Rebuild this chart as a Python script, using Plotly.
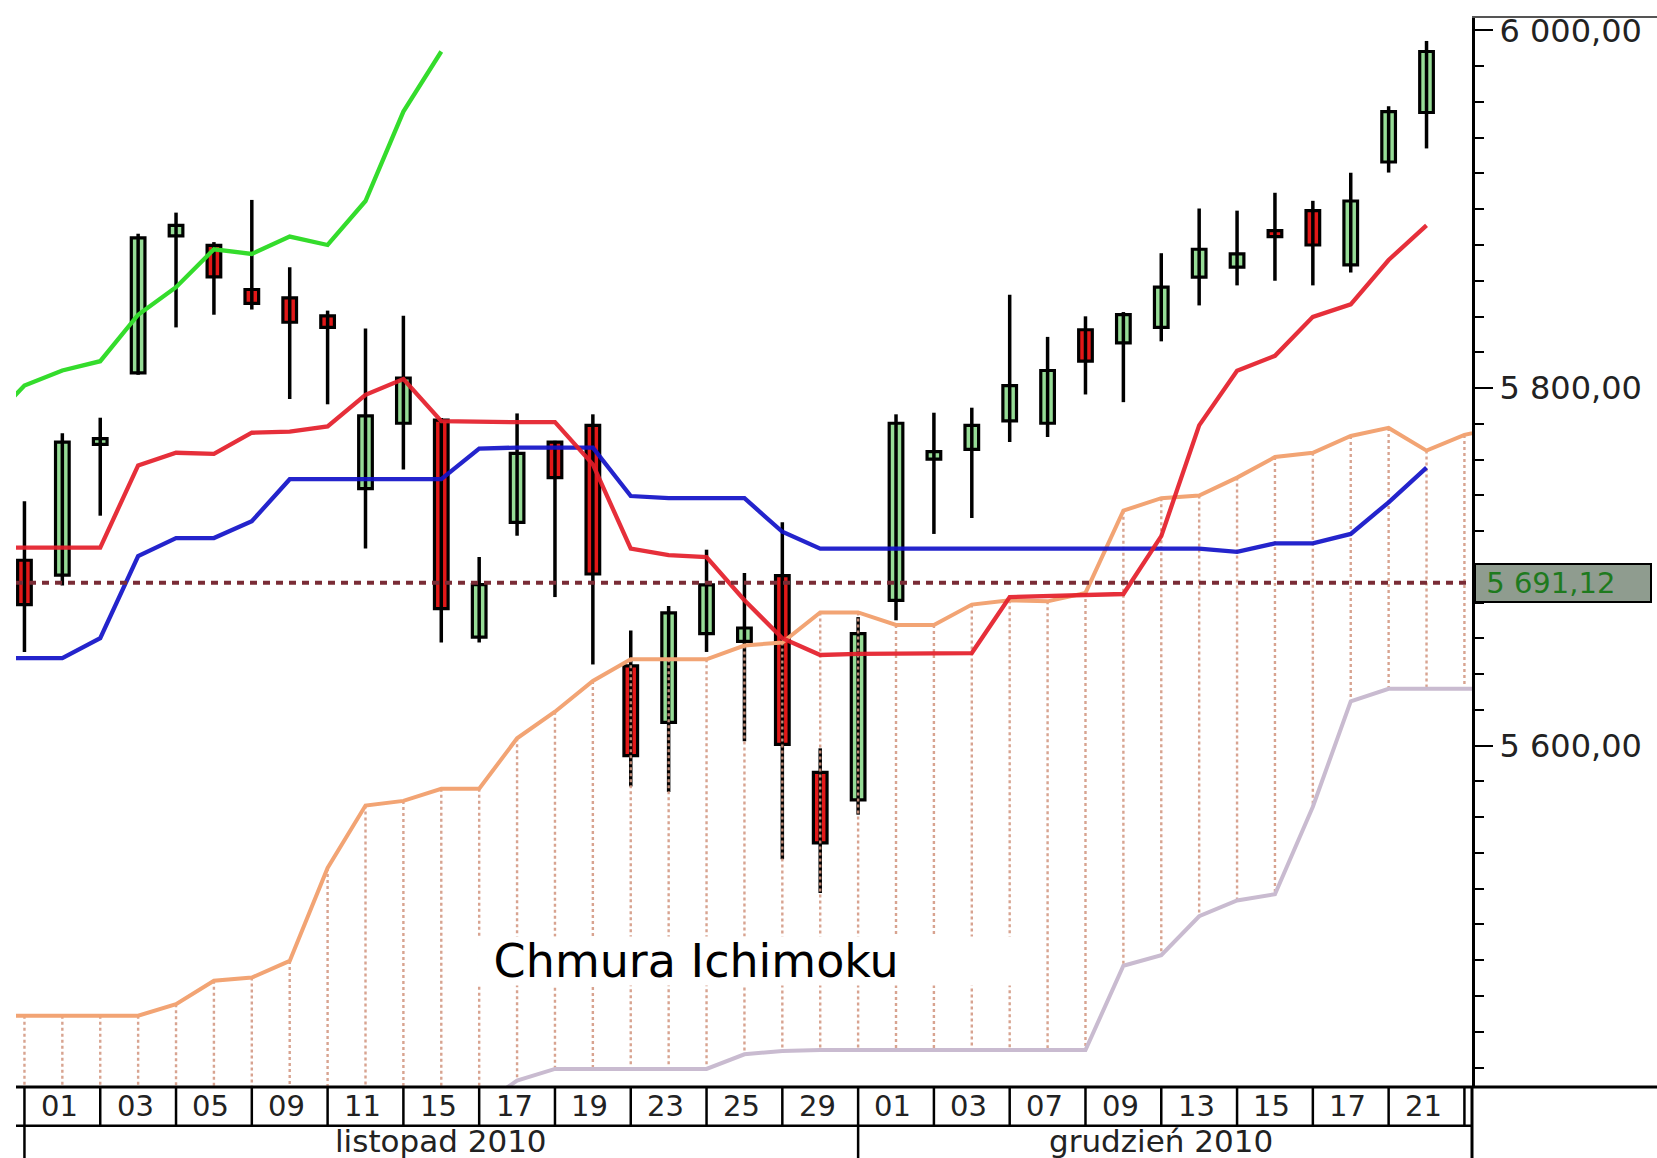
import plotly.graph_objects as go

# ---------------- data ----------------
dates = ["2010-11-01", "2010-11-02", "2010-11-03", "2010-11-04", "2010-11-05",
         "2010-11-08", "2010-11-09", "2010-11-10", "2010-11-11", "2010-11-12",
         "2010-11-15", "2010-11-16", "2010-11-17", "2010-11-18", "2010-11-19",
         "2010-11-22", "2010-11-23", "2010-11-24", "2010-11-25", "2010-11-26",
         "2010-11-29", "2010-11-30", "2010-12-01", "2010-12-02", "2010-12-03",
         "2010-12-06", "2010-12-07", "2010-12-08", "2010-12-09", "2010-12-10",
         "2010-12-13", "2010-12-14", "2010-12-15", "2010-12-16", "2010-12-17",
         "2010-12-20", "2010-12-21", "2010-12-22"]
opens = [5703.7, 5695.4, 5768.5, 5808.5, 5885.1, 5879.8, 5855.1, 5850.4, 5840.4, 5743.7,
         5780.3, 5782.0, 5660.7, 5724.9, 5769.8, 5779.1, 5644.6, 5613.0, 5662.6, 5658.3,
         5695.1, 5585.1, 5569.7, 5681.2, 5760.2, 5765.7, 5781.6, 5780.3, 5832.6, 5825.2,
         5833.9, 5862.0, 5867.6, 5888.0, 5899.2, 5868.9, 5926.4, 5954.1]
highs = [5736.7, 5774.7, 5783.4, 5886.3, 5898.1, 5881.6, 5905.2, 5867.5, 5843.3, 5833.3,
         5840.4, 5783.2, 5705.5, 5785.8, 5770.5, 5785.3, 5664.4, 5678.1, 5709.6, 5696.6,
         5724.9, 5598.5, 5671.9, 5785.3, 5786.2, 5789.0, 5852.1, 5828.6, 5840.1, 5842.5,
         5875.4, 5900.4, 5899.2, 5909.2, 5904.7, 5920.4, 5957.6, 5994.1]
lows = [5652.4, 5689.6, 5728.6, 5807.4, 5833.9, 5841.0, 5843.9, 5793.8, 5790.9, 5710.2,
        5754.4, 5657.7, 5657.7, 5717.4, 5683.1, 5645.4, 5577.2, 5574.1, 5652.4, 5602.4,
        5536.4, 5517.6, 5561.4, 5670.1, 5718.4, 5727.3, 5769.8, 5772.6, 5796.4, 5792.1,
        5826.1, 5846.2, 5857.4, 5860.0, 5857.4, 5864.6, 5920.5, 5934.0]
closes = [5678.9, 5769.8, 5771.7, 5884.0, 5891.0, 5862.2, 5847.4, 5836.8, 5833.9, 5784.4,
          5805.6, 5676.6, 5690.1, 5763.5, 5749.9, 5696.0, 5594.4, 5674.3, 5689.9, 5665.8,
          5600.7, 5545.6, 5662.6, 5780.3, 5764.4, 5779.1, 5801.4, 5809.8, 5815.0, 5841.0,
          5856.4, 5877.6, 5875.0, 5884.7, 5880.0, 5904.6, 5954.6, 5988.2]

# Tenkan-sen / Kijun-sen : session -1 .. 37
tenkan = [5710.8, 5710.8, 5710.8, 5710.8, 5756.7, 5763.8, 5763.2, 5775.0, 5775.6, 5778.5,
          5796.2, 5805.0, 5781.5, 5780.9, 5780.9, 5780.9, 5757.3, 5710.2, 5706.6, 5705.5,
          5681.3, 5660.1, 5650.7, 5651.3, 5651.3, 5651.3, 5651.8, 5683.1, 5683.7, 5684.2,
          5684.8, 5717.2, 5779.1, 5809.7, 5818.0, 5839.8, 5846.8, 5871.6, 5891.0]
kijun = [5648.9, 5648.9, 5648.9, 5660.1, 5706.0, 5716.1, 5716.1, 5725.5, 5749.0, 5749.0,
         5749.0, 5749.0, 5749.0, 5766.1, 5766.7, 5766.7, 5766.7, 5739.6, 5738.4, 5738.4,
         5738.4, 5719.6, 5710.2, 5710.2, 5710.2, 5710.2, 5710.2, 5710.2, 5710.2, 5710.2,
         5710.2, 5710.2, 5710.2, 5708.4, 5713.1, 5713.1, 5718.4, 5736.1, 5755.5]
# Senkou span A / B : session -1 .. 39
senkou_a = [5449.0, 5449.0, 5449.0, 5449.0, 5449.0, 5455.4, 5468.5, 5470.3, 5479.6, 5531.6,
            5566.5, 5569.1, 5575.9, 5575.9, 5604.1, 5619.0, 5636.2, 5648.3, 5648.3, 5648.3,
            5656.0, 5657.7, 5674.5, 5674.5, 5667.5, 5667.5, 5678.9, 5681.3, 5680.7, 5685.4,
            5731.4, 5738.4, 5739.9, 5749.9, 5761.4, 5763.8, 5773.2, 5777.7, 5765.0, 5773.8,
            5778.5]
senkou_b = [5390.0, 5390.0, 5390.0, 5390.0, 5390.0, 5390.0, 5390.0, 5390.0, 5390.0, 5390.0,
            5390.0, 5390.0, 5390.0, 5398.0, 5412.7, 5419.2, 5419.2, 5419.2, 5419.2, 5419.2,
            5427.4, 5429.2, 5429.8, 5429.8, 5429.8, 5429.8, 5429.8, 5429.8, 5429.8, 5429.8,
            5476.9, 5482.8, 5504.6, 5513.4, 5516.9, 5565.8, 5624.8, 5631.8, 5631.8, 5631.8,
            5631.8]
chikou_shift = 26
last_price = 5691.12
last_price_text = "5 691,12"
y_ticks = [5600, 5800, 6000]
y_tick_text = ["5 600,00", "5 800,00", "6 000,00"]
month_names = {"11": "listopad 2010", "12": "grudzień 2010"}
cloud_label = "Chmura Ichimoku"

# ---------------- derived positions ----------------
n = len(dates)
idx = list(range(n))
line_x = list(range(-1, n))
cloud_x = list(range(-1, n + 2))
Y_MIN, Y_MAX = 5409.1, 6007.5
X_MIN, X_MAX = -0.223, 38.2

FONT = "DejaVu Sans"
fig = go.Figure()

# wicks
wx, wy = [], []
for i in idx:
    wx += [i, i, None]
    wy += [lows[i], highs[i], None]
fig.add_trace(go.Scatter(x=wx, y=wy, mode="lines", line=dict(color="black", width=3.5),
                         hoverinfo="skip", showlegend=False))

# bodies
up = [i for i in idx if closes[i] >= opens[i]]
dn = [i for i in idx if closes[i] < opens[i]]
for group, col in ((up, "#96dc96"), (dn, "#e21818")):
    fig.add_trace(go.Bar(
        x=group,
        base=[min(opens[i], closes[i]) for i in group],
        y=[abs(closes[i] - opens[i]) for i in group],
        width=0.36,
        marker=dict(color=col, line=dict(color="black", width=3.2)),
        hoverinfo="skip", showlegend=False))

# cloud hatch
hx, hy = [], []
for k, x in enumerate(cloud_x):
    top = max(senkou_a[k], senkou_b[k])
    bot = max(min(senkou_a[k], senkou_b[k]), Y_MIN)
    if top > bot:
        hx += [x, x, None]
        hy += [top, bot, None]
fig.add_trace(go.Scatter(x=hx, y=hy, mode="lines",
                         line=dict(color="#d49a84", width=2.4, dash="3px,3px"),
                         opacity=0.9, hoverinfo="skip", showlegend=False))

# senkou spans
fig.add_trace(go.Scatter(x=cloud_x, y=senkou_a, mode="lines",
                         line=dict(color="#f2a474", width=4), hoverinfo="skip", showlegend=False))
fig.add_trace(go.Scatter(x=cloud_x, y=senkou_b, mode="lines",
                         line=dict(color="#c9bbd0", width=4), hoverinfo="skip", showlegend=False))

# chikou span
ch_x = [i - chikou_shift for i in idx if i - chikou_shift >= -1]
ch_y = [closes[i] for i in idx if i - chikou_shift >= -1]
fig.add_trace(go.Scatter(x=ch_x, y=ch_y, mode="lines",
                         line=dict(color="#34dc2c", width=4.3), hoverinfo="skip", showlegend=False))

# tenkan / kijun
fig.add_trace(go.Scatter(x=line_x, y=kijun, mode="lines", opacity=0.92,
                         line=dict(color="#1212c8", width=4.3), hoverinfo="skip", showlegend=False))
fig.add_trace(go.Scatter(x=line_x, y=tenkan, mode="lines", opacity=0.92,
                         line=dict(color="#e41e2a", width=4.3), hoverinfo="skip", showlegend=False))

shapes = []
# last price dotted line
shapes.append(dict(type="line", xref="paper", yref="y", x0=0, x1=1, y0=last_price, y1=last_price,
                   line=dict(color="#7a2c36", width=4, dash="7px,6px")))

# bottom date table
ROW1 = -0.0363
ROW2 = -0.075
shapes.append(dict(type="line", xref="paper", yref="paper", x0=0, x1=1.13, y0=0, y1=0,
                   line=dict(color="black", width=3)))
shapes.append(dict(type="line", xref="paper", yref="paper", x0=0, x1=1, y0=ROW1, y1=ROW1,
                   line=dict(color="black", width=2.5)))
shapes.append(dict(type="line", xref="paper", yref="paper", x0=1, x1=1, y0=0, y1=ROW2,
                   line=dict(color="black", width=3)))
shapes.append(dict(type="line", xref="paper", yref="paper", x0=1, x1=1.13, y0=1, y1=1,
                   line=dict(color="#555555", width=2)))

annotations = []
for i in list(range(0, n, 2)) + [n]:
    shapes.append(dict(type="line", xref="x", yref="paper", x0=i, x1=i, y0=0, y1=ROW1,
                       line=dict(color="black", width=2.5)))
for i in range(0, n, 2):
    annotations.append(dict(x=i + 0.92, y=ROW1 / 2, xref="x", yref="paper",
                            text=dates[i][8:10], showarrow=False, yanchor="middle",
                            font=dict(family=FONT, size=29, color="#222222")))

# month spans
month_start = []
for i in idx:
    if i == 0 or dates[i][5:7] != dates[i - 1][5:7]:
        month_start.append(i)
for k, s in enumerate(month_start):
    e = month_start[k + 1] if k + 1 < len(month_start) else n
    shapes.append(dict(type="line", xref="x", yref="paper", x0=s, x1=s, y0=ROW1, y1=ROW2,
                       line=dict(color="black", width=2.5)))
    annotations.append(dict(x=(s + e) / 2, y=(ROW1 - 0.0665) / 2 + 0.0005, xref="x", yref="paper",
                            text=month_names[dates[s][5:7]], showarrow=False, yanchor="middle",
                            font=dict(family=FONT, size=31, color="#222222")))

# last price tag
annotations.append(dict(x=1, y=last_price, xref="paper", yref="y", xanchor="left",
                        yanchor="middle", xshift=2, text=" " + last_price_text, showarrow=False,
                        align="left", width=172, height=34, borderpad=1,
                        bgcolor="#8f9c8f", bordercolor="black", borderwidth=2,
                        font=dict(family=FONT, size=29, color="#1e7a1e")))

# cloud label
annotations.append(dict(x=11.95, y=5479.8, xref="x", yref="y", xanchor="left",
                        yanchor="middle", text=" " + cloud_label, showarrow=False, align="left",
                        width=553, height=46, bgcolor="white",
                        font=dict(family=FONT, size=46, color="black")))

fig.update_layout(
    width=1657, height=1158,
    margin=dict(l=16, r=185, t=13, b=71),
    paper_bgcolor="white", plot_bgcolor="white",
    barmode="overlay", showlegend=False,
    shapes=shapes, annotations=annotations,
    xaxis=dict(range=[X_MIN, X_MAX], visible=False, fixedrange=True),
    yaxis=dict(range=[Y_MIN, Y_MAX], side="right", showgrid=False, zeroline=False,
               tickvals=y_ticks, ticktext=y_tick_text, ticks="outside", ticklen=18,
               tickwidth=2, tickcolor="black", showline=True, linecolor="black", linewidth=3,
               tickfont=dict(family=FONT, size=32, color="#222222"),
               minor=dict(dtick=20, ticks="outside", ticklen=9, tickwidth=2,
                          tickcolor="black", showgrid=False),
               fixedrange=True),
)

fig.write_html("out.html", config={"displayModeBar": False},
               post_script="document.body.style.margin='0';")
